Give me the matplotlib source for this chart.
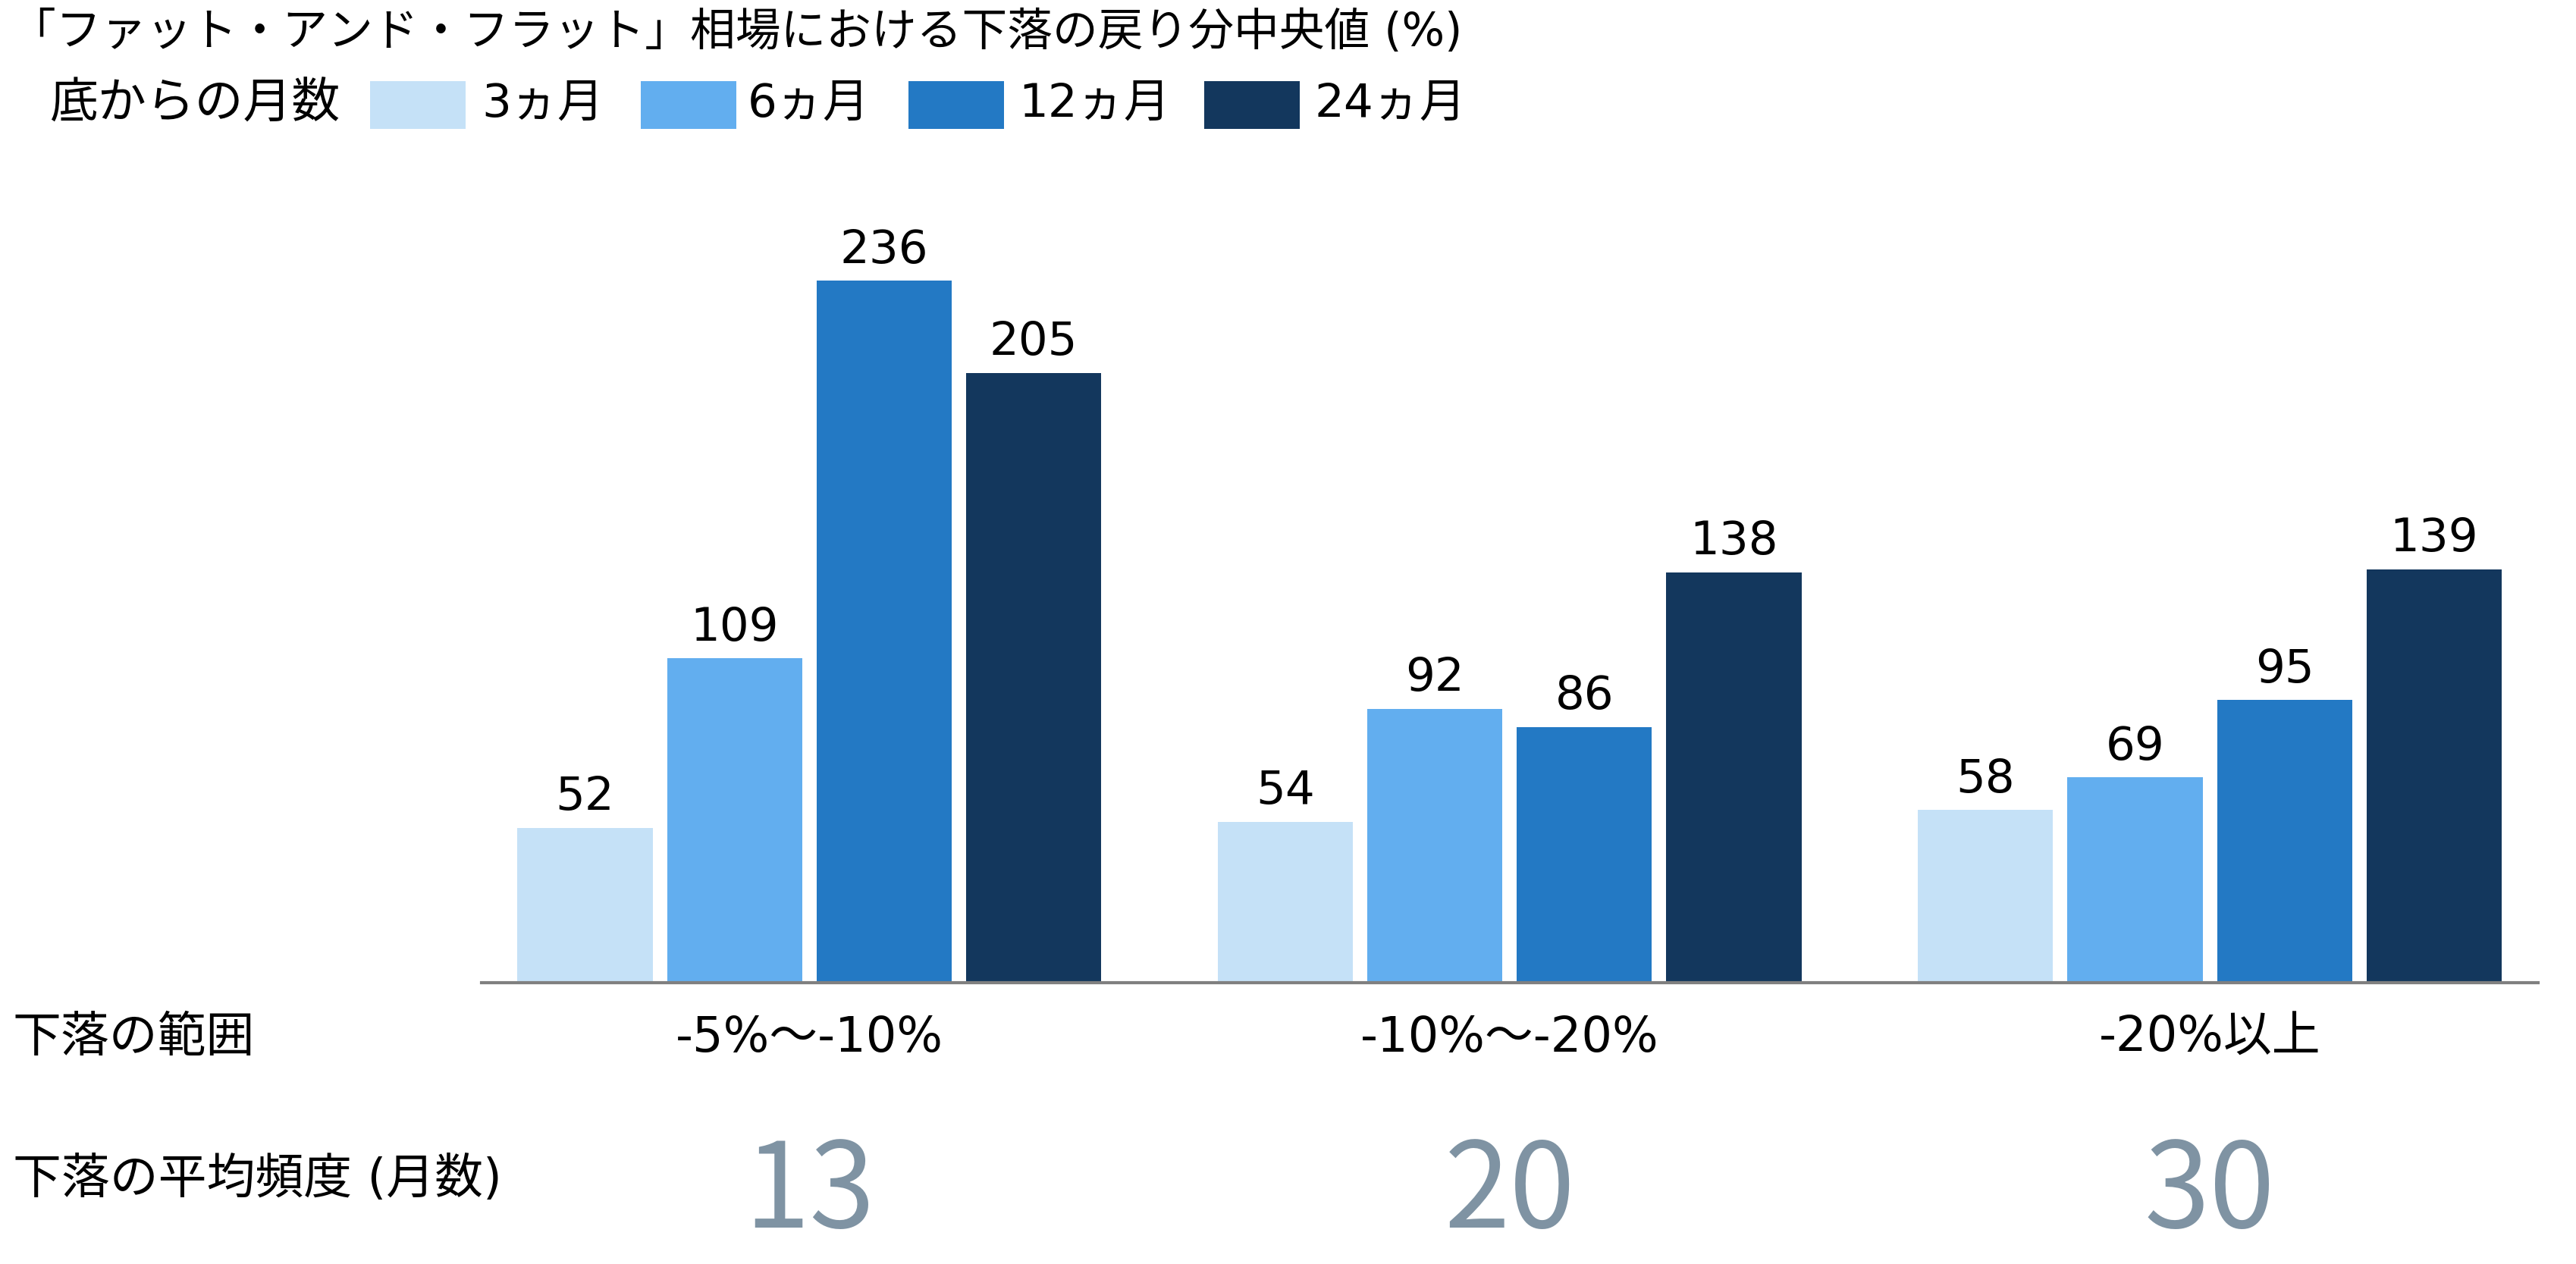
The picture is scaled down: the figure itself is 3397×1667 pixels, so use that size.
import matplotlib
matplotlib.use("Agg")
import matplotlib.pyplot as plt
from matplotlib.patches import Rectangle
import matplotlib.transforms as mtransforms
import numpy as np

FAM = ['DejaVu Sans', 'Noto Sans CJK JP']
plt.rcParams['font.family'] = FAM

title = "「ファット・アンド・フラット」相場における下落の戻り分中央値 (%)"
legend_title = "底からの月数"
series_names = ["3ヵ月", "6ヵ月", "12ヵ月", "24ヵ月"]
categories = ["-5%～-10%", "-10%～-20%", "-20%以上"]
values = {
    "3ヵ月": [52, 54, 58],
    "6ヵ月": [109, 92, 69],
    "12ヵ月": [236, 86, 95],
    "24ヵ月": [205, 138, 139],
}
freq_label = "下落の平均頻度 (月数)"
range_label = "下落の範囲"
avg_freq = ["13", "20", "30"]

colors = ["#C5E1F7", "#62AEEF", "#2379C4", "#13375D"]
freq_color = "#7F93A3"

fig = plt.figure(figsize=(33.97, 16.67), dpi=100)
ax = fig.add_axes([0.187, 0.2226, 0.7983, 0.6118])

x = np.arange(len(categories))
step = 0.2136
width = 0.193
for i, name in enumerate(series_names):
    pos = x + (i - 1.5) * step
    bars = ax.bar(pos, values[name], width=width, color=colors[i], zorder=2)
    for b, v in zip(bars, values[name]):
        ax.annotate(str(v), (b.get_x() + b.get_width() / 2, v),
                    xytext=(0, 17), textcoords='offset points',
                    ha='center', va='baseline', fontsize=44,
                    family='DejaVu Sans', color='black')

ax.set_xlim(-0.468, 2.469)
ax.set_ylim(0, 260)
for s in ['top', 'right', 'left']:
    ax.spines[s].set_visible(False)
ax.spines['bottom'].set_color('#808080')
ax.spines['bottom'].set_linewidth(3)
ax.set_yticks([])
ax.set_xticks([])

trans = mtransforms.blended_transform_factory(ax.transData, ax.transAxes)
for xi, c, f in zip(x, categories, avg_freq):
    ax.text(xi, -0.0716, c, transform=trans, ha='center', va='center',
            fontsize=46, color='black')
    ax.text(xi, -0.2736, f, transform=trans, ha='center', va='center',
            fontsize=112, color=freq_color, family='Noto Sans CJK JP')

fig.text(0.005, 1 - 1369 / 1667, range_label, ha='left', va='center', fontsize=46)
fig.text(0.005, 1 - 1556 / 1667, freq_label, ha='left', va='center', fontsize=46)

fig.text(0.004, 0.974, title, ha='left', va='center', fontsize=43)
fig.text(0.019, 0.918, legend_title, ha='left', va='center', fontsize=46)

patch_x = [0.1437, 0.2487, 0.3527, 0.4675]
text_x = [0.1869, 0.2902, 0.3954, 0.5102]
for px, tx, name, col in zip(patch_x, text_x, series_names, colors):
    fig.patches.append(Rectangle((px, 0.898), 0.0371, 0.0378, transform=fig.transFigure,
                                 facecolor=col, edgecolor='none'))
    fig.text(tx, 0.918, name, ha='left', va='center', fontsize=44)

fig.savefig("out.png", dpi=100, facecolor='white')
